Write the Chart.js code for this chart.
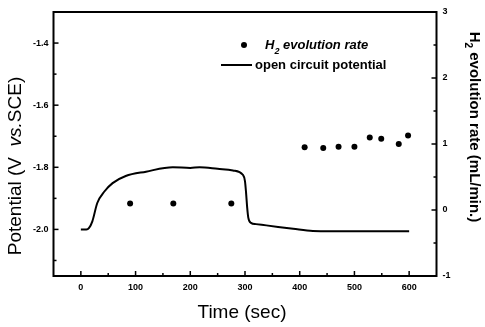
<!DOCTYPE html>
<html>
<head>
<meta charset="utf-8">
<script src="https://cdn.jsdelivr.net/npm/chart.js@4/dist/chart.umd.min.js"></script>
<style>
html,body{margin:0;padding:0;background:#fff;}
#wrap{width:485px;height:327px;}
</style>
</head>
<body>
<div id="wrap"><canvas id="c" width="485" height="327"></canvas></div>
<script>
// ---- data ----
const timeSec = [0, 10, 15, 21, 30, 43, 58, 82, 119, 168, 200, 217, 250, 278, 296, 300, 302, 304, 306, 311, 320, 339, 388, 424, 500, 600];
const potential = [-2.0, -2.0, -1.995, -1.974, -1.915, -1.878, -1.851, -1.828, -1.814, -1.800, -1.802, -1.800, -1.805, -1.810, -1.824, -1.845, -1.883, -1.930, -1.962, -1.979, -1.983, -1.987, -1.998, -2.005, -2.006, -2.006];
const h2Time = [90, 169, 275, 409, 443, 471, 500, 528, 549, 581, 598];
const h2Rate = [0.10, 0.10, 0.10, 0.95, 0.94, 0.96, 0.96, 1.10, 1.08, 1.00, 1.13];
const xTicks = [0, 100, 200, 300, 400, 500, 600];
const xMinorTicks = [50, 150, 250, 350, 450, 550];
const leftTicks = [-2.0, -1.8, -1.6, -1.4];
const leftMinorTicks = [-2.1, -1.9, -1.7, -1.5, -1.3];
const rightTicks = [-1, 0, 1, 2, 3];
const rightMinorTicks = [-0.5, 0.5, 1.5, 2.5];
const seriesNames = ['H2 evolution rate', 'open circuit potential'];

const FONT = '"Liberation Sans", Arial, sans-serif';

const decor = {
  id: 'decor',
  afterDatasetsDraw(chart) {
    const ctx = chart.ctx, a = chart.chartArea;
    const sx = chart.scales.x, sl = chart.scales.yL, sr = chart.scales.yR;
    ctx.save();
    ctx.strokeStyle = '#000';
    ctx.lineWidth = 1.5;
    const tick = (x1, y1, x2, y2) => { ctx.beginPath(); ctx.moveTo(x1, y1); ctx.lineTo(x2, y2); ctx.stroke(); };
    xTicks.forEach(v => { const p = sx.getPixelForValue(v); tick(p, a.bottom, p, a.bottom - 5); });
    xMinorTicks.forEach(v => { const p = sx.getPixelForValue(v); tick(p, a.bottom, p, a.bottom - 3); });
    leftTicks.forEach(v => { const p = sl.getPixelForValue(v); tick(a.left, p, a.left + 5, p); });
    leftMinorTicks.forEach(v => { const p = sl.getPixelForValue(v); tick(a.left, p, a.left + 3, p); });
    rightTicks.forEach(v => { const p = sr.getPixelForValue(v); tick(a.right, p, a.right - 5, p); });
    rightMinorTicks.forEach(v => { const p = sr.getPixelForValue(v); tick(a.right, p, a.right - 3, p); });
    // frame
    ctx.lineWidth = 2;
    ctx.strokeRect(a.left, a.top, a.right - a.left, a.bottom - a.top);

    ctx.fillStyle = '#000';
    // legend
    ctx.beginPath(); ctx.arc(244, 45, 3, 0, Math.PI * 2); ctx.fill();
    ctx.textBaseline = 'alphabetic';
    ctx.textAlign = 'left';
    let x = 265;
    ctx.font = 'italic bold 13px ' + FONT;
    ctx.fillText('H', x, 49); x += ctx.measureText('H').width;
    ctx.font = 'italic bold 9px ' + FONT;
    ctx.fillText('2', x, 54); x += ctx.measureText('2').width;
    ctx.font = 'italic bold 13px ' + FONT;
    ctx.fillText(' evolution rate', x, 49);
    ctx.lineWidth = 2;
    tick(221, 65, 252, 65);
    ctx.font = 'bold 13px ' + FONT;
    ctx.textBaseline = 'middle';
    ctx.fillText('open circuit potential', 255, 65);

    // x title
    ctx.font = '19px ' + FONT;
    ctx.textAlign = 'center';
    ctx.fillText('Time (sec)', 242, 313);

    // left title (mixed styles)
    ctx.save();
    ctx.translate(16, 166);
    ctx.rotate(-Math.PI / 2);
    const parts = [['Potential (V  ', '19px '], ['vs.', 'italic 19px '], ['SCE)', '19px ']];
    let tw = 0;
    parts.forEach(p => { ctx.font = p[1] + FONT; tw += ctx.measureText(p[0]).width; });
    let cx = -tw / 2;
    ctx.textAlign = 'left';
    parts.forEach(p => { ctx.font = p[1] + FONT; ctx.fillText(p[0], cx, 0); cx += ctx.measureText(p[0]).width; });
    ctx.restore();

    // right title
    ctx.save();
    ctx.translate(474, 127);
    ctx.rotate(Math.PI / 2);
    ctx.textAlign = 'left';
    ctx.textBaseline = 'middle';
    ctx.font = 'bold 15px ' + FONT;
    const w1 = ctx.measureText('H').width;
    const rest = ' evolution rate (mL/min.)';
    const w3 = ctx.measureText(rest).width;
    ctx.font = 'bold 10px ' + FONT;
    const w2 = ctx.measureText('2').width;
    let rx = -(w1 + w2 + w3) / 2;
    ctx.font = 'bold 15px ' + FONT;
    ctx.fillText('H', rx, 0); rx += w1;
    ctx.font = 'bold 10px ' + FONT;
    ctx.fillText('2', rx, 6); rx += w2;
    ctx.font = 'bold 15px ' + FONT;
    ctx.fillText(rest, rx, 0);
    ctx.restore();
    ctx.restore();
  }
};

const tickFont = { family: FONT, size: 9, weight: 'bold' };
const noGrid = { display: false, drawTicks: false, tickLength: 0 };

new Chart(document.getElementById('c'), {
  type: 'line',
  data: {
    datasets: [
      {
        label: seriesNames[1],
        data: timeSec.map((t, i) => ({ x: t, y: potential[i] })),
        yAxisID: 'yL',
        borderColor: '#000',
        borderWidth: 2,
        pointRadius: 0,
        cubicInterpolationMode: 'monotone',
        fill: false
      },
      {
        label: seriesNames[0],
        data: h2Time.map((t, i) => ({ x: t, y: h2Rate[i] })),
        yAxisID: 'yR',
        showLine: false,
        pointRadius: 3,
        pointBackgroundColor: '#000',
        pointBorderColor: '#000',
        pointBorderWidth: 0
      }
    ]
  },
  options: {
    responsive: false,
    animation: false,
    events: [],
    layout: { padding: { top: 12, left: 0, right: 0, bottom: 0 } },
    plugins: { legend: { display: false }, tooltip: { enabled: false } },
    scales: {
      x: {
        type: 'linear', position: 'bottom', min: -50, max: 650,
        grid: noGrid, border: { display: false },
        afterBuildTicks: s => { s.ticks = xTicks.map(v => ({ value: v })); },
        afterFit: s => { s.height = 51; },
        ticks: { font: tickFont, color: '#000', padding: 6, maxRotation: 0, callback: v => String(v) }
      },
      yL: {
        type: 'linear', position: 'left', min: -2.15, max: -1.3,
        grid: noGrid, border: { display: false },
        afterBuildTicks: s => { s.ticks = leftTicks.map(v => ({ value: v })); },
        afterFit: s => { s.width = 53.5; },
        ticks: { font: tickFont, color: '#000', padding: 5, callback: v => Number(v).toFixed(1) }
      },
      yR: {
        type: 'linear', position: 'right', min: -1, max: 3,
        grid: noGrid, border: { display: false },
        afterBuildTicks: s => { s.ticks = rightTicks.map(v => ({ value: v })); },
        afterFit: s => { s.width = 48.5; },
        ticks: { font: tickFont, color: '#000', padding: 6, callback: v => String(v) }
      }
    }
  },
  plugins: [decor]
});
</script>
</body>
</html>
